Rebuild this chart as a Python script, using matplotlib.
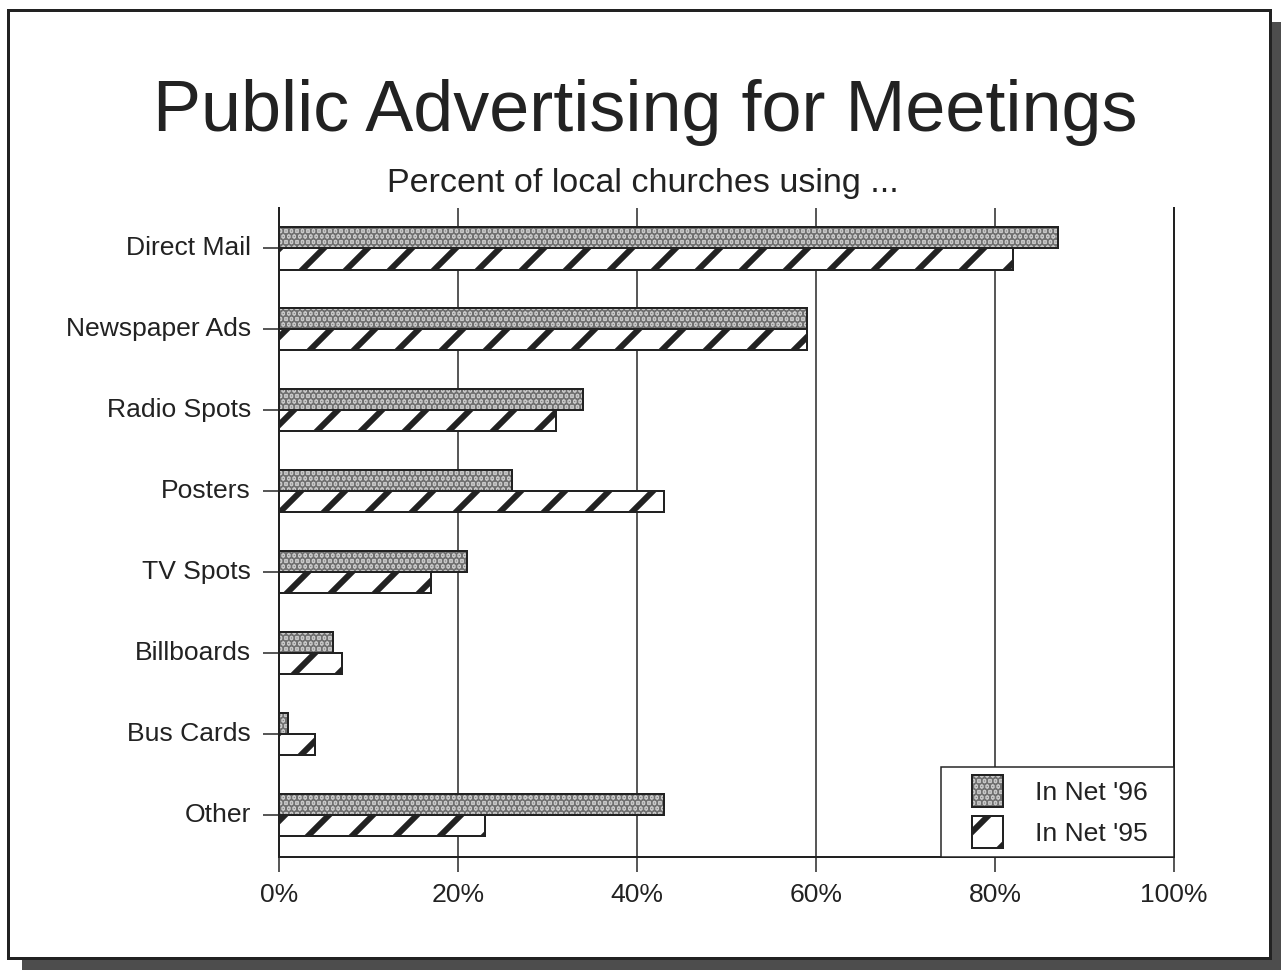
import matplotlib
matplotlib.use("Agg")
import matplotlib.pyplot as plt
from matplotlib.patches import Patch, Rectangle
from matplotlib.legend_handler import HandlerPatch, HandlerTuple

# Survey data: percent of local churches using each kind of advertising
categories = ['Direct Mail', 'Newspaper Ads', 'Radio Spots', 'Posters',
              'TV Spots', 'Billboards', 'Bus Cards', 'Other']
net96 = [87, 59, 34, 26, 21, 6, 1, 43]
net95 = [82, 59, 31, 43, 17, 7, 4, 23]
xticks = [0, 20, 40, 60, 80, 100]
xlabels = ['0%', '20%', '40%', '60%', '80%', '100%']

# high dpi so the '//' hatch gets wide stripes like the printed chart
DPI = 264
W, H = 1281, 970


def pt(px):
    # pixel sizes -> points at this dpi
    return px * 72 / DPI


INK = '#222222'
LABEL = pt(26.5)
plt.rcParams['font.family'] = ['Liberation Sans', 'DejaVu Sans']
plt.rcParams['hatch.linewidth'] = pt(6)

fig = plt.figure(figsize=(W / DPI, H / DPI), dpi=DPI)
fig.patch.set_facecolor('white')

# page with drop shadow
shadow = Rectangle((22 / W, 0), 1, 1 - 22 / H, transform=fig.transFigure,
                   facecolor='#4d4d4d', edgecolor='none', zorder=-2)
page = Rectangle((8 / W, 1 - 958 / H), (1270 - 8) / W, (958 - 10) / H,
                 transform=fig.transFigure, facecolor='white',
                 edgecolor=INK, linewidth=pt(3), zorder=-1)
fig.patches.extend([shadow, page])

fig.text(645 / W, 1 - 131 / H, 'Public Advertising for Meetings',
         ha='center', va='baseline', fontsize=pt(72), color=INK)
fig.text(643 / W, 1 - 192 / H, 'Percent of local churches using ...',
         ha='center', va='baseline', fontsize=pt(34), color=INK)

ax = fig.add_axes([279 / W, 1 - 857 / H, (1174 - 279) / W, (857 - 208) / H])
ax.set_facecolor('none')

y = list(range(len(categories)))
h = 0.26
stipple = dict(facecolor='#c8c8c8', edgecolor='#707070', hatch='........', linewidth=0)
outline = dict(fill=False, edgecolor=INK, linewidth=pt(2))
stripes = dict(facecolor='white', edgecolor=INK, hatch='//', linewidth=pt(2))

ax.barh([v - h / 2 for v in y], net96, height=h, zorder=3, **stipple)
ax.barh([v - h / 2 for v in y], net96, height=h, zorder=4, **outline)
ax.barh([v + h / 2 for v in y], net95, height=h, zorder=3, **stripes)

ax.set_xlim(0, 100)
ax.set_ylim(7.52, -0.5)
ax.set_xticks(xticks)
ax.set_xticklabels(xlabels)
ax.set_yticks(y)
ax.set_yticklabels(categories)
ax.tick_params(axis='y', length=pt(16), width=pt(1.5), pad=pt(12),
               labelsize=LABEL, colors=INK)
ax.tick_params(axis='x', length=pt(15), width=pt(1.5), pad=pt(11),
               labelsize=LABEL, colors=INK)
for lbl in ax.get_yticklabels():
    lbl.set_verticalalignment('center')
ax.grid(axis='x', color=INK, linewidth=pt(1.5), zorder=1)
ax.set_axisbelow(True)
ax.spines['top'].set_visible(False)
for s in ['left', 'bottom', 'right']:
    ax.spines[s].set_color(INK)
    ax.spines[s].set_linewidth(pt(2))


def legend_square(legend, orig_handle, xdescent, ydescent, width, height, fontsize):
    side = 1.2 * fontsize
    return Rectangle((-xdescent + width - side, -ydescent + (height - side) / 2),
                     side, side)


handles = [(Patch(**stipple), Patch(**outline)), Patch(**stripes)]
leg = ax.legend(handles, ["In Net '96", "In Net '95"],
                loc='lower left', bbox_to_anchor=(0.74, 0, 0.26, 0.1),
                mode='expand', borderaxespad=0, borderpad=0.42,
                handlelength=1.92, handleheight=1.17, handletextpad=1.2,
                labelspacing=0.5, fontsize=LABEL, fancybox=False,
                framealpha=1, edgecolor=INK,
                handler_map={Patch: HandlerPatch(patch_func=legend_square),
                             tuple: HandlerTuple(ndivide=1)})
leg.get_frame().set_linewidth(pt(1.5))
leg.set_zorder(5)
for t in leg.get_texts():
    t.set_color(INK)

fig.savefig('out.png', dpi=DPI)
